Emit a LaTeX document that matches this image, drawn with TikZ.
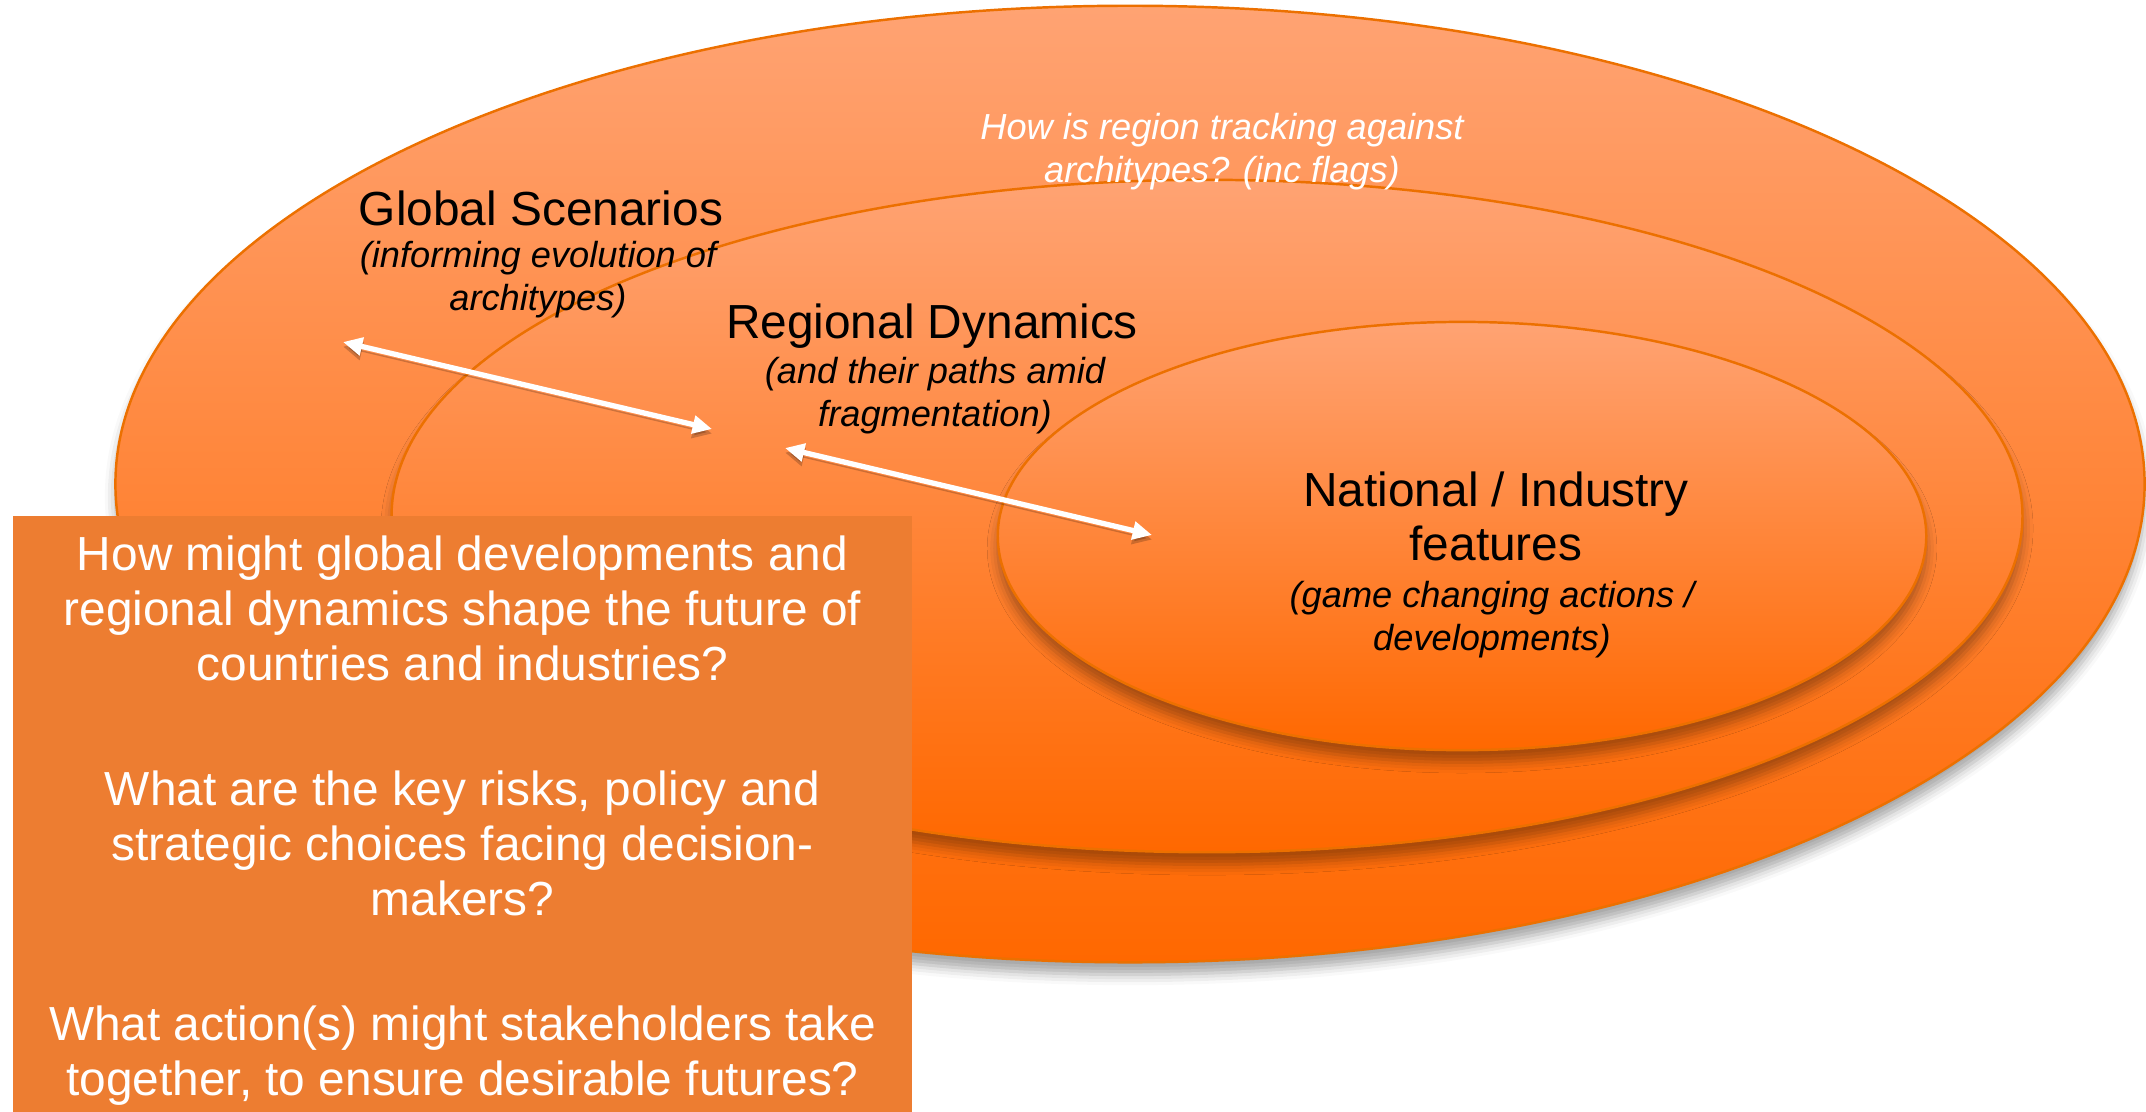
\documentclass[tikz,border=0pt]{standalone}
\usepackage{fontspec}
\setmainfont{Liberation Sans}
\usetikzlibrary{shapes.geometric,arrows.meta}
\usetikzlibrary{positioning}
\usetikzlibrary{shadows.blur}
\definecolor{ringtop}{RGB}{255,163,115}
\definecolor{ringbottom}{RGB}{255,104,0}
\definecolor{ringline}{RGB}{236,112,0}
\definecolor{qfill}{RGB}{237,125,49}
\tikzstyle{ring} = [draw=ringline, line width=0.7pt, ellipse, inner sep=0pt,
top color=ringtop, bottom color=ringbottom,
blur shadow={shadow xshift=0pt, shadow yshift=-3.5pt, shadow blur radius=3pt, shadow opacity=35}]
\tikzstyle{line} = [draw=white, line width=1.5pt,
{Triangle[length=5.5pt,width=5pt]}-{Triangle[length=5.5pt,width=5pt]},
preaction={draw=black, opacity=0.2, transform canvas={yshift=-1.3pt}}]

\begin{document}
\begin{tikzpicture}[x=0.01cm, y=-0.01cm,
    title/.style={font=\fontsize{13.6}{15.4}\selectfont, align=center, inner sep=0pt},
    note/.style={font=\fontsize{10.3}{12.2}\selectfont\itshape, align=center, inner sep=0pt}]
    \useasboundingbox (0,0) rectangle (2146,1111);
    %% Rings
    \node[ring, minimum width=20.28cm, minimum height=9.56cm] (global) at (1130,484) {};
    \node[ring, minimum width=16.30cm, minimum height=6.72cm] (regional) at (1207,516) {};
    \node[ring, minimum width=9.28cm, minimum height=4.28cm] (national) at (1462,536) {};
    %% Labels
    \node[note, text=white] (track) at (1222,152) {How is region tracking against\\architypes? (inc flags)};
    \node[title] (globT) at (541,208) {Global Scenarios};
    \node[note] (globN) at (538,280) {(informing evolution of\\architypes)};
    \node[title] (regT) at (932,326) {Regional Dynamics};
    \node[note] (regN) at (935,396) {(and their paths amid\\fragmentation)};
    \node[title] (natT) at (1496,516) {National / Industry\\features};
    \node[note] (natN) at (1492,620) {(game changing actions /\\developments)};
    %% Links
    \coordinate (g1) at (343,342);
    \coordinate (g2) at (712,429);
    \coordinate (r1) at (785,448);
    \coordinate (r2) at (1152,535);
    \path [line] (g1) -- (g2);
    \path [line] (r1) -- (r2);
    %% Questions (box runs past the page foot, as in the reference)
    \node[fill=qfill, text=white, title, font=\fontsize{13.6}{15.6}\selectfont, anchor=north west,
      minimum width=8.99cm, minimum height=6.10cm] (questions) at (12,515)
      {How might global developments and\\regional dynamics shape the future of\\countries and industries?\\[20pt]
       What are the key risks, policy and\\strategic choices facing decision-\\makers?\\[20pt]
       What action(s) might stakeholders take\\together, to ensure desirable futures?};
\end{tikzpicture}
\end{document}
